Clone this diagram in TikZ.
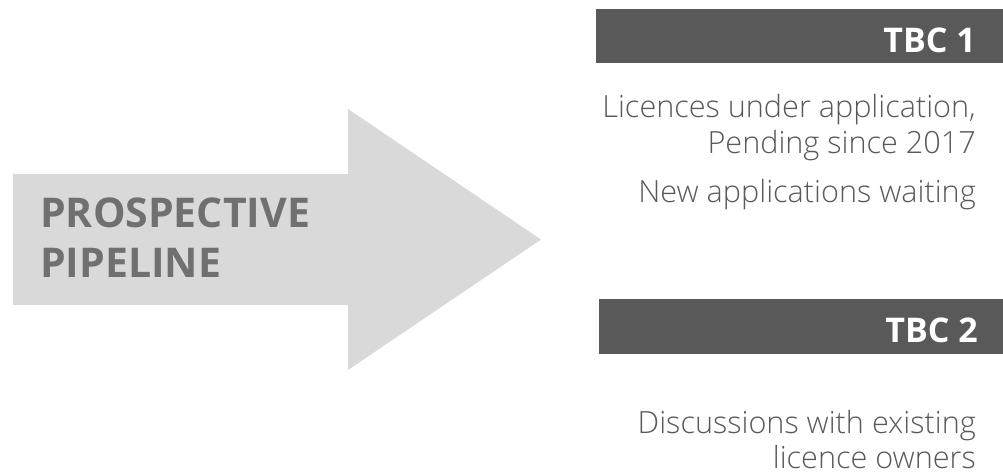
\documentclass[tikz,border=0pt]{standalone}
\usepackage{fontspec}
\setmainfont{Open Sans}
\newfontfamily\lightfont{Open Sans Light}
\usetikzlibrary{positioning}
\definecolor{pipeFill}{HTML}{D9D9D9}
\definecolor{pipeText}{HTML}{707070}
\definecolor{tbcBar}{HTML}{595959}
\definecolor{tbcNote}{HTML}{595959}

\begin{document}
\begin{tikzpicture}[x=1pt,y=-1pt,
   pipe/.style={font=\fontsize{41}{50}\selectfont\bfseries,text=pipeText,
                inner sep=0pt,anchor=base west},
   head/.style={font=\fontsize{34}{40}\selectfont\bfseries,text=white,
                inner sep=0pt,anchor=base east},
   note/.style={font=\lightfont\fontsize{30.6}{36}\selectfont,text=tbcNote,
                inner sep=0pt,anchor=base east}]
  \useasboundingbox (0,0) rectangle (1003,475);
  % big arrow
  \fill[pipeFill] (13,174) -- (348,174) -- (348,109) -- (541,239.5)
        -- (348,370) -- (348,305) -- (13,305) -- cycle;
  \node[pipe] (p1) at (40,227) {PROSPECTIVE};
  \node[pipe] (p2) at (40,277) {PIPELINE};
  % TBC 1
  \fill[tbcBar] (596,9) rectangle (1003,63);
  \node[head] (t1) at (976,52) {TBC 1};
  \node[note] (n1) at (976,117) {Licences under application,};
  \node[note] (n2) at (976,153) {Pending since 2017};
  \node[note] (n3) at (976,202) {New applications waiting};
  % TBC 2
  \fill[tbcBar] (599,299) rectangle (1003,354);
  \node[head] (t2) at (978,342) {TBC 2};
  \node[note] (n4) at (976,433) {Discussions with existing};
  \node[note] (n5) at (976,468) {licence owners};
\end{tikzpicture}
\end{document}
